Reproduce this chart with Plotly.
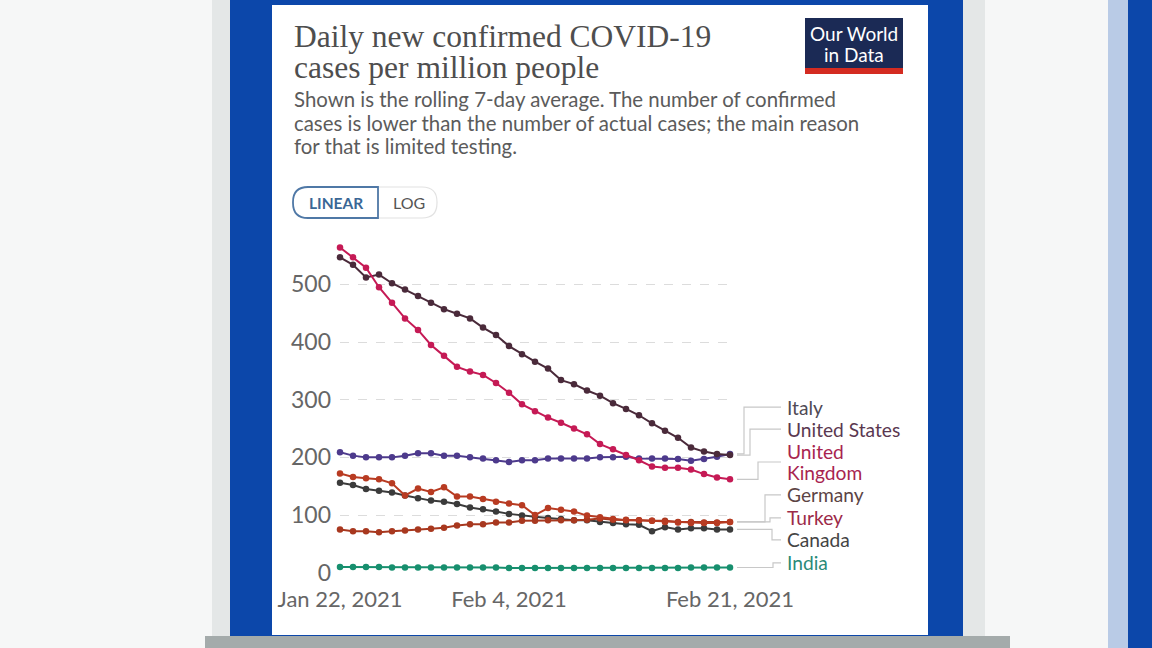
import plotly.graph_objects as go
import pandas as pd

dates = pd.date_range("2021-01-22", "2021-02-21", freq="D")

united_kingdom = [564, 547, 529, 495, 468, 441, 421, 395, 376, 357, 349, 343, 329, 312, 292, 280,
                  269, 260, 250, 240, 223, 214, 204, 195, 184, 182, 182, 179, 171, 165, 162]
united_states = [547, 534, 512, 517, 502, 491, 480, 468, 457, 449, 441, 425, 412, 393, 379, 366,
                 354, 334, 327, 316, 307, 294, 284, 273, 259, 246, 234, 217, 210, 206, 204]
italy = [209, 203, 200, 200, 200, 203, 207, 207, 203, 203, 200, 198, 195, 192, 195, 195,
         198, 198, 198, 198, 200, 200, 201, 198, 198, 198, 197, 194, 197, 201, 206]
germany = [172, 166, 164, 162, 155, 134, 146, 140, 148, 132, 132, 128, 123, 120, 117, 100,
           112, 109, 106, 99, 96, 93, 91, 91, 90, 88, 87, 86, 86, 86, 88]
canada = [156, 152, 145, 142, 139, 134, 129, 125, 123, 119, 113, 110, 106, 102, 99, 97,
          95, 93, 91, 91, 88, 86, 84, 83, 72, 79, 75, 77, 77, 75, 75]
turkey = [75, 72, 72, 70, 72, 73, 75, 76, 78, 82, 84, 84, 87, 87, 90, 90,
          91, 91, 91, 92, 94, 92, 92, 91, 90, 90, 88, 88, 87, 87, 88]
india = [10, 10, 10, 10, 9, 9, 9, 9, 9, 9, 9, 9, 9, 8, 8, 8,
         8, 8, 8, 8, 8, 8, 8, 8, 8, 8, 8, 9, 9, 9, 9]

tick_dates = ["2021-01-22", "2021-02-04", "2021-02-21"]
tick_text = ["Jan 22, 2021", "Feb 4, 2021", "Feb 21, 2021"]
y_ticks = [0, 100, 200, 300, 400, 500]

# name, values, line colour, label colour, label lines with positions (data units), elbow x (px)
series = [
    ("India", india, "#178f6e", "#2a8a78", [("India", 17)], 773),
    ("Canada", canada, "#3b3b3b", "#444444", [("Canada", 57)], 772),
    ("Turkey", turkey, "#a8381f", "#9c2a48", [("Turkey", 95)], 770),
    ("Germany", germany, "#b83b22", "#5c4444", [("Germany", 135)], 765),
    ("Italy", italy, "#4d3a8c", "#4f4a55", [("Italy", 287)], 744),
    ("United States", united_states, "#4a2a3a", "#5a3850", [("United States", 249)], 750),
    ("United Kingdom", united_kingdom, "#c51a55", "#a8244f", [("United", 211), ("Kingdom", 173)], 758),
]

W, H = 1152, 648


def px(x):
    return x / W


def py(y):
    return 1 - y / H


Y_MAX = 570
Y0_PIX, YTOP_PIX = 572.7, 244.0
X0_PIX, X1_PIX = 340, 730

fig = go.Figure()
for name, vals, col, lcol, labs, elbow in series:
    fig.add_trace(go.Scatter(
        x=dates, y=vals, mode="lines+markers", name=name,
        line=dict(color=col, width=2),
        marker=dict(color=col, size=6.5),
        cliponaxis=False, showlegend=False))

shapes = []
annotations = []


def rect(x0, y0, x1, y1, color, opacity=1.0, layer="below"):
    shapes.append(dict(type="rect", xref="paper", yref="paper", x0=px(x0), x1=px(x1),
                       y0=py(y1), y1=py(y0), fillcolor=color, line=dict(width=0),
                       layer=layer, opacity=opacity))


# background / frame
rect(212, 0, 230, 636, "#d9dcdc", 0.6)
rect(963, 0, 985, 636, "#d9dcdc", 0.6)
rect(230, 0, 963, 636, "#0c47aa")
rect(272, 5, 928, 635, "#ffffff")
rect(205, 636, 1010, 648, "#a4abab")
rect(1108, 0, 1128, 648, "#7b9fd6", 0.5)
rect(1128, 0, 1152, 648, "#0c47aa")

# logo
rect(805, 18, 903, 68, "#1b2a55", layer="above")
rect(805, 68, 903, 74, "#d42b21", layer="above")
annotations.append(dict(text="Our World", xref="paper", yref="paper", x=px(854), y=py(33),
                        xanchor="center", yanchor="middle",
                        showarrow=False, font=dict(family="Lato", size=19, color="white")))
annotations.append(dict(text="in Data", xref="paper", yref="paper", x=px(854), y=py(54),
                        xanchor="center", yanchor="middle",
                        showarrow=False, font=dict(family="Lato", size=19, color="white")))


def rpath(x0, y0, x1, y1, rl, rr):
    p = f"M {px(x0 + rl)} {py(y0)} L {px(x1 - rr)} {py(y0)} "
    if rr:
        p += (f"Q {px(x1)} {py(y0)} {px(x1)} {py(y0 + rr)} L {px(x1)} {py(y1 - rr)} "
              f"Q {px(x1)} {py(y1)} {px(x1 - rr)} {py(y1)} ")
    else:
        p += f"L {px(x1)} {py(y1)} "
    p += f"L {px(x0 + rl)} {py(y1)} "
    if rl:
        p += (f"Q {px(x0)} {py(y1)} {px(x0)} {py(y1 - rl)} L {px(x0)} {py(y0 + rl)} "
              f"Q {px(x0)} {py(y0)} {px(x0 + rl)} {py(y0)} ")
    else:
        p += f"L {px(x0)} {py(y0)} "
    return p + "Z"


shapes.append(dict(type="path", xref="paper", yref="paper", path=rpath(378, 187, 437, 218, 0, 15),
                   line=dict(color="#e2e2e2", width=1.2), fillcolor="white", layer="below"))
shapes.append(dict(type="path", xref="paper", yref="paper", path=rpath(293, 187, 378, 218, 15, 0),
                   line=dict(color="#4f78a6", width=1.8), fillcolor="white", layer="below"))
annotations.append(dict(text="<b>LINEAR</b>", xref="paper", yref="paper", x=px(336), y=py(203),
                        xanchor="center", yanchor="middle",
                        showarrow=False, font=dict(family="Lato", size=15.5, color="#3a6796")))
annotations.append(dict(text="LOG", xref="paper", yref="paper", x=px(409), y=py(203),
                        xanchor="center", yanchor="middle",
                        showarrow=False, font=dict(family="Lato", size=16, color="#555555")))

# titles
for i, line in enumerate(["Daily new confirmed COVID-19", "cases per million people"]):
    annotations.append(dict(text=line, xref="paper", yref="paper", x=px(292), y=py(36 + 31 * i),
                            xanchor="left", yanchor="middle", showarrow=False,
                            font=dict(family="Liberation Serif", size=31.5, color="#4e4e4e")))
sub_lines = ["Shown is the rolling 7-day average. The number of confirmed",
             "cases is lower than the number of actual cases; the main reason",
             "for that is limited testing."]
for i, line in enumerate(sub_lines):
    annotations.append(dict(text=line, xref="paper", yref="paper", x=px(292), y=py(99 + 23.5 * i),
                            xanchor="left", yanchor="middle", showarrow=False,
                            font=dict(family="Lato", size=20.4, color="#5b5b5b")))


def val_to_pix(v):
    return Y0_PIX - (Y0_PIX - YTOP_PIX) * v / Y_MAX


for name, vals, col, lcol, labs, elbow in series:
    end_y = vals[-1]
    conn_y = sum(v for _, v in labs) / len(labs)
    shapes.append(dict(type="path", xref="paper", yref="paper",
                       path=f"M {px(737)} {py(val_to_pix(end_y))} L {px(elbow)} {py(val_to_pix(end_y))} "
                            f"L {px(elbow)} {py(val_to_pix(conn_y))} L {px(781)} {py(val_to_pix(conn_y))}",
                       line=dict(color="#c8c8c8", width=1.2)))
    for text, lab_y in labs:
        annotations.append(dict(text=text, xref="paper", yref="y", x=px(785), y=lab_y,
                                xanchor="left", yanchor="middle", align="left", showarrow=False,
                                font=dict(family="Lato", size=19.2, color=lcol)))

fig.update_layout(
    width=W, height=H,
    margin=dict(l=0, r=0, t=0, b=0, pad=0, autoexpand=False),
    paper_bgcolor="#f6f7f7",
    plot_bgcolor="rgba(0,0,0,0)",
    shapes=shapes,
    annotations=annotations,
    xaxis=dict(domain=[px(X0_PIX), px(X1_PIX)], type="date",
               range=["2021-01-22", "2021-02-21"],
               tickvals=tick_dates, ticktext=tick_text, automargin=False,
               showgrid=False, zeroline=False, showline=False,
               ticks="", ticklabelstandoff=11,
               tickfont=dict(family="Lato", size=22, color="#666666")),
    yaxis=dict(domain=[py(Y0_PIX), py(YTOP_PIX)], range=[0, Y_MAX], automargin=False,
               tickvals=y_ticks, showgrid=True, gridcolor="#dcdcdc", griddash="dash",
               gridwidth=1, zeroline=False, showline=False, ticks="",
               ticklabelstandoff=8,
               tickfont=dict(family="Lato", size=23, color="#666666")),
    hovermode=False,
)

fig.write_html("out.html", config={"displayModeBar": False},
               post_script="document.body.style.margin='0';")
